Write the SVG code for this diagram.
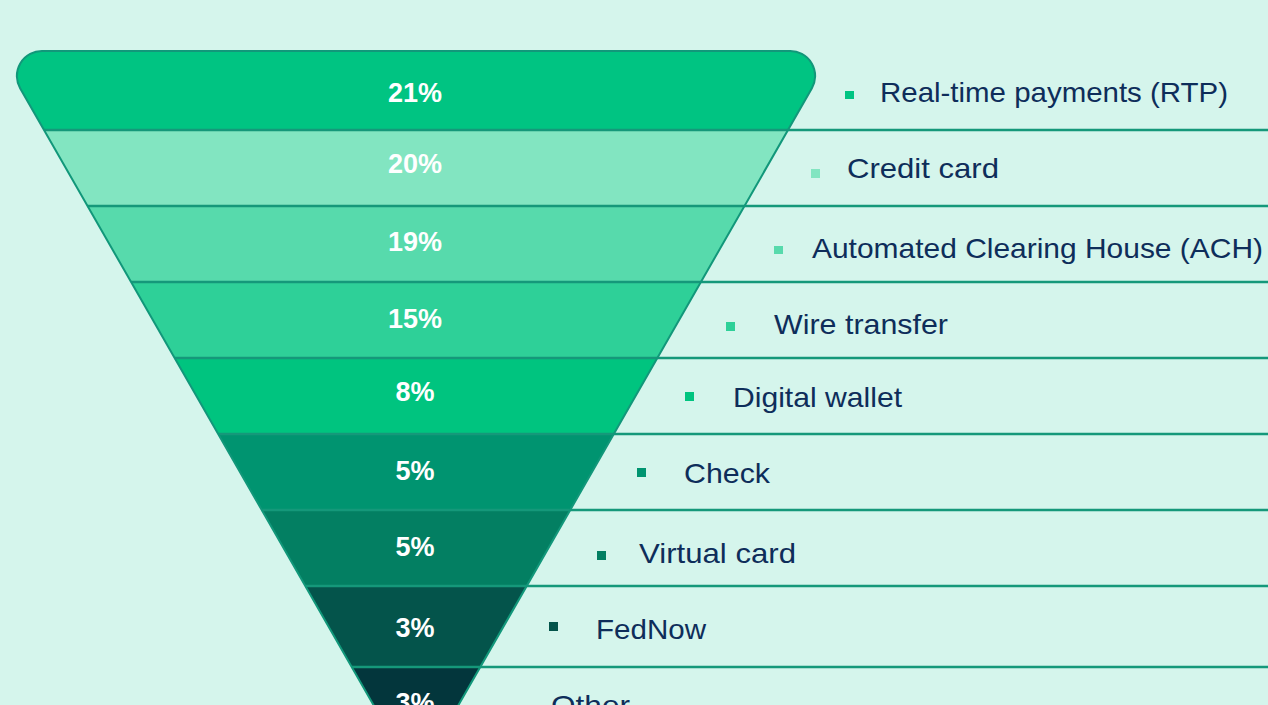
<svg xmlns="http://www.w3.org/2000/svg" width="1268" height="705" viewBox="0 0 1268 705">
  <defs>
    <style>
      .pct { font-family: "Liberation Sans", Arial, sans-serif; font-weight: bold; font-size: 27px; fill: #ffffff; text-anchor: middle; }
      .lbl { font-family: "Liberation Sans", Arial, sans-serif; font-size: 28px; fill: #0e2d5a; }
      .sep { stroke: #15987a; stroke-width: 2.5; fill: none; }
      .outline { stroke: #12977a; stroke-width: 2; fill: none; }
    </style>
    <clipPath id="funnelClip">
      <path d="M 41.8,51 L 790.3,51 A 25 25 0 0 1 811.9,88.3 L 449.9,720 L 382.1,720 L 20.1,88.3 A 25 25 0 0 1 41.8,51 Z"/>
    </clipPath>
  </defs>
  <rect x="0" y="0" width="1268" height="705" fill="#d5f5ec"/>

  <g id="funnel" clip-path="url(#funnelClip)">
    <rect id="band-rtp" x="0" y="40" width="860" height="90" fill="#00c482"/>
    <rect id="band-credit" x="0" y="130" width="860" height="76" fill="#82e5c1"/>
    <rect id="band-ach" x="0" y="206" width="860" height="76" fill="#57daac"/>
    <rect id="band-wire" x="0" y="282" width="860" height="76" fill="#2ed098"/>
    <rect id="band-wallet" x="0" y="358" width="860" height="76" fill="#00c47f"/>
    <rect id="band-check" x="0" y="434" width="860" height="76" fill="#009470"/>
    <rect id="band-virtual" x="0" y="510" width="860" height="76" fill="#037f62"/>
    <rect id="band-fednow" x="0" y="586" width="860" height="81" fill="#04544b"/>
    <rect id="band-other" x="0" y="667" width="860" height="60" fill="#03363c"/>
  </g>

  <g id="connectors">
    <line class="sep" x1="44" y1="130" x2="1268" y2="130"/>
    <line class="sep" x1="87.5" y1="206" x2="1268" y2="206"/>
    <line class="sep" x1="131.1" y1="282" x2="1268" y2="282"/>
    <line class="sep" x1="174.6" y1="358" x2="1268" y2="358"/>
    <line class="sep" x1="218.2" y1="434" x2="1268" y2="434"/>
    <line class="sep" x1="261.7" y1="510" x2="1268" y2="510"/>
    <line class="sep" x1="305.3" y1="586" x2="1268" y2="586"/>
    <line class="sep" x1="351.7" y1="667" x2="1268" y2="667"/>
  </g>

  <path class="outline" d="M 41.8,51 L 790.3,51 A 25 25 0 0 1 811.9,88.3 L 449.9,720 M 382.1,720 L 20.1,88.3 A 25 25 0 0 1 41.8,51"/>

  <g id="percentages">
    <text class="pct" x="415" y="102">21%</text>
    <text class="pct" x="415" y="173">20%</text>
    <text class="pct" x="415" y="251">19%</text>
    <text class="pct" x="415" y="328">15%</text>
    <text class="pct" x="415" y="401">8%</text>
    <text class="pct" x="415" y="480">5%</text>
    <text class="pct" x="415" y="556">5%</text>
    <text class="pct" x="415" y="637">3%</text>
    <text class="pct" x="415" y="712">3%</text>
  </g>

  <g id="node-rtp">
    <rect x="845" y="91" width="9" height="8" fill="#00c482"/>
    <text class="lbl" x="880" y="102" textLength="348" lengthAdjust="spacingAndGlyphs">Real-time payments (RTP)</text>
  </g>
  <g id="node-credit">
    <rect x="811" y="169" width="9" height="9" fill="#82e5c1"/>
    <text class="lbl" x="847" y="178" textLength="152" lengthAdjust="spacingAndGlyphs">Credit card</text>
  </g>
  <g id="node-ach">
    <rect x="774" y="246" width="9" height="8" fill="#57daac"/>
    <text class="lbl" x="812" y="258" textLength="451" lengthAdjust="spacingAndGlyphs">Automated Clearing House (ACH)</text>
  </g>
  <g id="node-wire">
    <rect x="726" y="322" width="9" height="9" fill="#2ed098"/>
    <text class="lbl" x="774" y="334" textLength="174" lengthAdjust="spacingAndGlyphs">Wire transfer</text>
  </g>
  <g id="node-wallet">
    <rect x="685" y="392" width="9" height="9" fill="#00c47f"/>
    <text class="lbl" x="733" y="407" textLength="169" lengthAdjust="spacingAndGlyphs">Digital wallet</text>
  </g>
  <g id="node-check">
    <rect x="637" y="468" width="9" height="9" fill="#009470"/>
    <text class="lbl" x="684" y="483" textLength="86" lengthAdjust="spacingAndGlyphs">Check</text>
  </g>
  <g id="node-virtual">
    <rect x="597" y="551" width="9" height="9" fill="#037f62"/>
    <text class="lbl" x="639" y="563" textLength="157" lengthAdjust="spacingAndGlyphs">Virtual card</text>
  </g>
  <g id="node-fednow">
    <rect x="549" y="622" width="9" height="9" fill="#04544b"/>
    <text class="lbl" x="596" y="639" textLength="110" lengthAdjust="spacingAndGlyphs">FedNow</text>
  </g>
  <g id="node-other">
    <text class="lbl" x="551" y="715" textLength="79" lengthAdjust="spacingAndGlyphs">Other</text>
  </g>
</svg>
